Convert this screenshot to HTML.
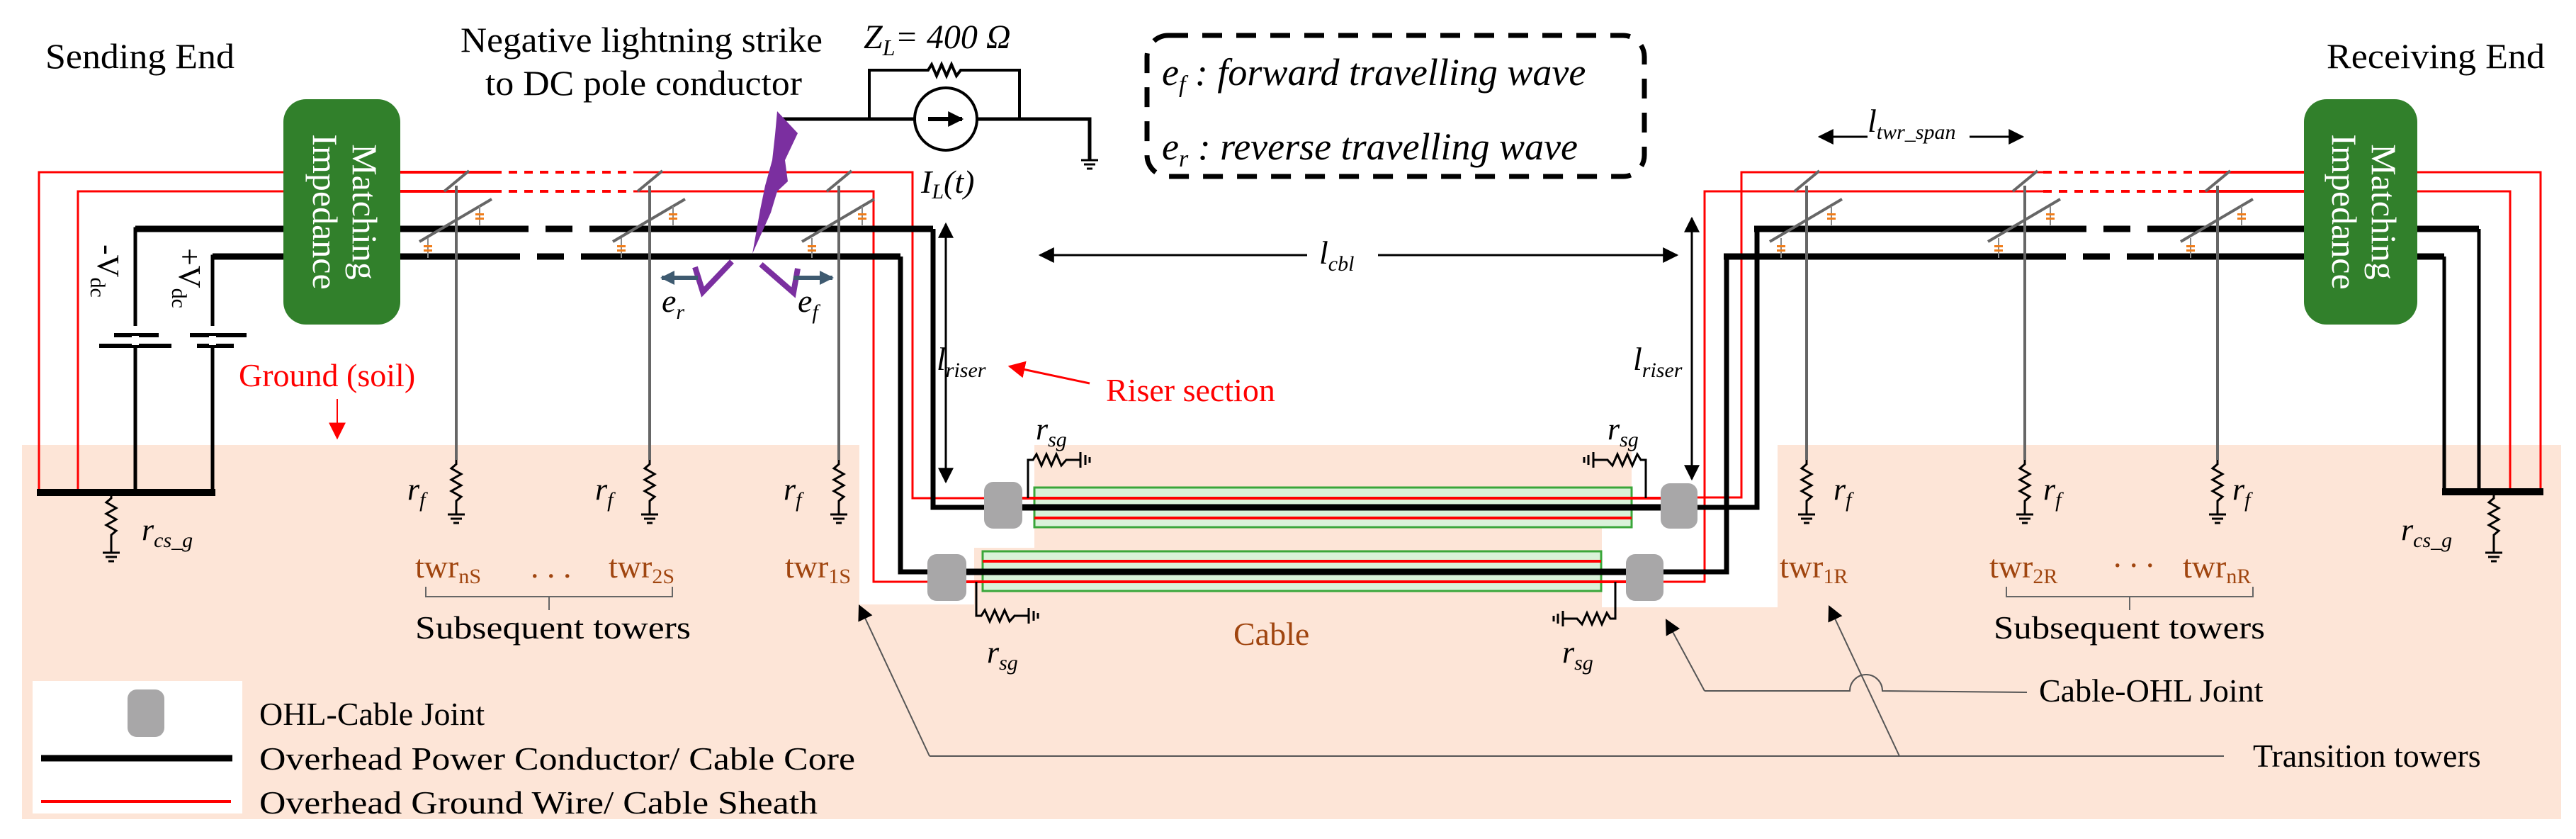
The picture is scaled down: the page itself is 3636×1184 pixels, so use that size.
<!DOCTYPE html>
<html><head><meta charset="utf-8"><style>
html,body{margin:0;padding:0;background:#fff;}
svg{display:block;}
text{font-family:"Liberation Serif",serif;}
.it{font-style:italic;}
.br{fill:#a0450f;}
</style></head><body>
<svg width="3636" height="1184" viewBox="0 0 3636 1184" xmlns="http://www.w3.org/2000/svg">
<defs>
<marker id="ah" viewBox="0 0 10 10" refX="9" refY="5" markerWidth="9" markerHeight="9" orient="auto-start-reverse" markerUnits="userSpaceOnUse"><path d="M0,0 L10,5 L0,10 z" fill="#000"/></marker>
<marker id="ahb" viewBox="0 0 10 10" refX="9" refY="5" markerWidth="22" markerHeight="22" orient="auto-start-reverse" markerUnits="userSpaceOnUse"><path d="M0,0 L10,5 L0,10 z" fill="#000"/></marker>
<marker id="ahr" viewBox="0 0 10 10" refX="9" refY="5" markerWidth="24" markerHeight="24" orient="auto-start-reverse" markerUnits="userSpaceOnUse"><path d="M0,0 L10,5 L0,10 z" fill="#f00"/></marker>
<marker id="ahs" viewBox="0 0 10 10" refX="9" refY="5" markerWidth="20" markerHeight="20" orient="auto-start-reverse" markerUnits="userSpaceOnUse"><path d="M0,0 L10,5 L0,10 z" fill="#3e5a70"/></marker>
<g id="gnd"><line x1="-12" y1="0" x2="12" y2="0" stroke="#000" stroke-width="3"/><line x1="-8" y1="6" x2="8" y2="6" stroke="#000" stroke-width="3"/><line x1="-4" y1="12" x2="4" y2="12" stroke="#000" stroke-width="3"/></g>
<g id="rv"><polyline points="0,0 0,6 -7,12 7,20 -7,28 7,36 -7,44 7,52 0,58 0,66" fill="none" stroke="#000" stroke-width="3"/></g>
<g id="ins"><line x1="0" y1="-14" x2="0" y2="14" stroke="#888" stroke-width="2"/><rect x="-6" y="-4" width="12" height="3" fill="#f07d1a"/><rect x="-6" y="2" width="12" height="3" fill="#f07d1a"/></g>
</defs>

<!-- soil -->
<polygon points="31,628 1213,628 1213,853 1375,853 1375,773 1460,773 1460,628 2303,628 2303,745 2261,745 2261,857 2509,857 2509,628 3615,628 3615,1156 31,1156" fill="#fde5d7"/>
<rect x="46" y="961" width="296" height="187" fill="#fff"/>

<!-- texts top -->
<text x="64" y="96" font-size="50" textLength="267" lengthAdjust="spacingAndGlyphs">Sending End</text>
<text x="3284" y="96" font-size="50" textLength="308" lengthAdjust="spacingAndGlyphs">Receiving End</text>
<text x="650" y="73" font-size="50" textLength="511" lengthAdjust="spacingAndGlyphs">Negative lightning strike</text>
<text x="685" y="134" font-size="50" textLength="447" lengthAdjust="spacingAndGlyphs">to DC pole conductor</text>
<text x="1219" y="68" font-size="48" class="it">Z<tspan font-size="32" dy="10">L</tspan><tspan dy="-10">= 400  Ω</tspan></text>
<text x="1300" y="272" font-size="46" class="it">I<tspan font-size="30" dy="8">L</tspan><tspan dy="-8">(t)</tspan></text>

<!-- dashed legend box -->
<rect x="1619" y="50" width="702" height="199" rx="30" fill="none" stroke="#000" stroke-width="7" stroke-dasharray="28 20"/>
<text x="1640" y="120" font-size="54" class="it">e<tspan font-size="34" dy="10">f</tspan><tspan dy="-10"> : forward travelling wave</tspan></text>
<text x="1640" y="225" font-size="54" class="it">e<tspan font-size="34" dy="10">r</tspan><tspan dy="-10"> : reverse travelling wave</tspan></text>

<!-- ZL circuit -->
<polyline points="1103,168 1291,168" stroke="#000" stroke-width="5" fill="none"/>
<polyline points="1379,168 1538,168 1538,226" stroke="#000" stroke-width="5" fill="none"/>
<use href="#gnd" x="1538" y="226"/>
<polyline points="1227,168 1227,99 1310,99 1315,91 1322,107 1329,91 1336,107 1343,91 1350,107 1356,99 1439,99 1439,168" stroke="#000" stroke-width="4" fill="none"/>
<circle cx="1335" cy="168" r="44" fill="#fff" stroke="#000" stroke-width="4"/>
<line x1="1310" y1="168" x2="1358" y2="168" stroke="#000" stroke-width="6" marker-end="url(#ahb)"/>

<!-- Matching impedance boxes -->
<rect x="400" y="140" width="165" height="318" rx="32" fill="#31802b"/>
<text transform="translate(498,299) rotate(90)" font-size="50" fill="#fff" text-anchor="middle">Matching</text>
<text transform="translate(442,299) rotate(90)" font-size="50" fill="#fff" text-anchor="middle">Impedance</text>
<rect x="3252" y="140" width="160" height="318" rx="32" fill="#31802b"/>
<text transform="translate(3348,299) rotate(90)" font-size="50" fill="#fff" text-anchor="middle">Matching</text>
<text transform="translate(3292,299) rotate(90)" font-size="50" fill="#fff" text-anchor="middle">Impedance</text>

<!-- LEFT red ground wires -->
<g stroke="#f00" fill="none">
<polyline points="400,243 55,243 55,695" stroke-width="3"/>
<polyline points="400,270 110,270 110,695" stroke-width="3"/>
<line x1="565" y1="243" x2="696" y2="243" stroke-width="4"/>
<line x1="696" y1="243" x2="894" y2="243" stroke-width="4" stroke-dasharray="12 10"/>
<polyline points="894,243 1288,243 1288,703 1389,703" stroke-width="3"/>
<line x1="565" y1="270" x2="696" y2="270" stroke-width="4"/>
<line x1="696" y1="270" x2="894" y2="270" stroke-width="4" stroke-dasharray="12 10"/>
<polyline points="894,270 1233,270 1233,821 1309,821" stroke-width="3"/>
</g>
<!-- LEFT black conductors -->
<g stroke="#000" fill="none">
<polyline points="191,695 191,323 400,323" stroke-width="5"/>
<line x1="191" y1="323" x2="400" y2="323" stroke-width="9"/>
<polyline points="300,695 300,362 400,362" stroke-width="5"/>
<line x1="300" y1="362" x2="400" y2="362" stroke-width="9"/>
<line x1="565" y1="323" x2="708" y2="323" stroke-width="9"/>
<line x1="708" y1="323" x2="859" y2="323" stroke-width="9" stroke-dasharray="38 24"/>
<line x1="859" y1="323" x2="1317" y2="323" stroke-width="9"/>
<polyline points="1317,323 1317,716 1389,716" stroke-width="7"/>
<line x1="565" y1="362" x2="696" y2="362" stroke-width="9"/>
<line x1="696" y1="362" x2="824" y2="362" stroke-width="9" stroke-dasharray="38 24"/>
<line x1="824" y1="362" x2="1271" y2="362" stroke-width="9"/>
<polyline points="1271,362 1271,807 1309,807" stroke-width="7"/>
<line x1="52" y1="695" x2="304" y2="695" stroke-width="10"/>
</g>
<!-- capacitors -->
<g stroke="#000" stroke-width="6">
<line x1="191" y1="460" x2="191" y2="473" stroke="#fff" stroke-width="8"/>
<line x1="300" y1="460" x2="300" y2="488" stroke="#fff" stroke-width="8"/>
<line x1="161" y1="473" x2="224" y2="473"/><line x1="140" y1="488" x2="242" y2="488"/>
<line x1="268" y1="473" x2="348" y2="473"/><line x1="278" y1="488" x2="330" y2="488"/>
</g>
<rect x="186" y="474" width="10" height="13" fill="#fff"/>
<rect x="295" y="474" width="10" height="13" fill="#fff"/>
<text transform="translate(138,345) rotate(90)" font-size="44">-V<tspan font-size="30" dy="10">dc</tspan></text>
<text transform="translate(253,350) rotate(90)" font-size="44">+V<tspan font-size="30" dy="10">dc</tspan></text>
<use href="#rv" x="157" y="697"/>
<line x1="157" y1="763" x2="157" y2="780" stroke="#000" stroke-width="3"/>
<use href="#gnd" x="157" y="780"/>
<text x="200" y="762" font-size="44" class="it">r<tspan font-size="30" dy="10">cs_g</tspan></text>

<!-- RIGHT red & black -->
<g stroke="#f00" fill="none">
<polyline points="3412,243 3586,243 3586,694" stroke-width="3"/>
<polyline points="3412,270 3543,270 3543,694" stroke-width="3"/>
<polyline points="2396,702 2458,702 2458,243 2884,243" stroke-width="3"/>
<line x1="2884" y1="243" x2="3104" y2="243" stroke-width="4" stroke-dasharray="12 10"/>
<line x1="3104" y1="243" x2="3252" y2="243" stroke-width="4"/>
<polyline points="2348,821 2406,821 2406,270 2884,270" stroke-width="3"/>
<line x1="2884" y1="270" x2="3104" y2="270" stroke-width="4" stroke-dasharray="12 10"/>
<line x1="3104" y1="270" x2="3252" y2="270" stroke-width="4"/>
</g>
<g stroke="#000" fill="none">
<polyline points="2396,716 2480,716 2480,323" stroke-width="7"/>
<line x1="2476" y1="323" x2="2907" y2="323" stroke-width="9"/>
<line x1="2907" y1="323" x2="3064" y2="323" stroke-width="9" stroke-dasharray="38 24"/>
<line x1="3064" y1="323" x2="3252" y2="323" stroke-width="9"/>
<line x1="3412" y1="323" x2="3499" y2="323" stroke-width="9"/>
<polyline points="3499,323 3499,694" stroke-width="5"/>
<polyline points="2348,807 2437,807 2437,362" stroke-width="7"/>
<line x1="2433" y1="362" x2="2878" y2="362" stroke-width="9"/>
<line x1="2878" y1="362" x2="3046" y2="362" stroke-width="9" stroke-dasharray="38 24"/>
<line x1="3046" y1="362" x2="3252" y2="362" stroke-width="9"/>
<line x1="3412" y1="362" x2="3450" y2="362" stroke-width="9"/>
<polyline points="3450,362 3450,694" stroke-width="5"/>
<line x1="3447" y1="694" x2="3590" y2="694" stroke-width="10"/>
</g>
<use href="#rv" x="3520" y="697"/>
<line x1="3520" y1="763" x2="3520" y2="780" stroke="#000" stroke-width="3"/>
<use href="#gnd" x="3520" y="780"/>
<text x="3389" y="762" font-size="44" class="it">r<tspan font-size="30" dy="10">cs_g</tspan></text>

<!-- Towers -->
<g id="towers">
<g stroke="#666" stroke-width="4" fill="none">
<line x1="644" y1="262" x2="644" y2="649"/><line x1="917" y1="262" x2="917" y2="649"/><line x1="1184" y1="262" x2="1184" y2="649"/>
<line x1="2550" y1="262" x2="2550" y2="649"/><line x1="2858" y1="262" x2="2858" y2="649"/><line x1="3130" y1="262" x2="3130" y2="649"/>
</g>
<g stroke="#666" stroke-width="4">
<line x1="627" y1="270" x2="662" y2="241"/><line x1="592" y1="341" x2="694" y2="281"/>
<line x1="900" y1="270" x2="935" y2="241"/><line x1="865" y1="341" x2="967" y2="281"/>
<line x1="1167" y1="270" x2="1202" y2="241"/><line x1="1132" y1="341" x2="1234" y2="281"/>
<line x1="2533" y1="270" x2="2568" y2="241"/><line x1="2498" y1="341" x2="2600" y2="281"/>
<line x1="2841" y1="270" x2="2876" y2="241"/><line x1="2806" y1="341" x2="2908" y2="281"/>
<line x1="3113" y1="270" x2="3148" y2="241"/><line x1="3078" y1="341" x2="3180" y2="281"/>
</g>
<use href="#ins" x="677" y="305"/><use href="#ins" x="604" y="350"/>
<use href="#ins" x="950" y="305"/><use href="#ins" x="877" y="350"/>
<use href="#ins" x="1217" y="305"/><use href="#ins" x="1146" y="350"/>
<use href="#ins" x="2585" y="305"/><use href="#ins" x="2514" y="350"/>
<use href="#ins" x="2894" y="305"/><use href="#ins" x="2821" y="350"/>
<use href="#ins" x="3164" y="305"/><use href="#ins" x="3092" y="350"/>
</g>
<g>
<use href="#rv" x="644" y="649"/><use href="#gnd" x="644" y="726"/><line x1="644" y1="714" x2="644" y2="726" stroke="#000" stroke-width="3"/>
<use href="#rv" x="917" y="649"/><use href="#gnd" x="917" y="726"/><line x1="917" y1="714" x2="917" y2="726" stroke="#000" stroke-width="3"/>
<use href="#rv" x="1184" y="649"/><use href="#gnd" x="1184" y="726"/><line x1="1184" y1="714" x2="1184" y2="726" stroke="#000" stroke-width="3"/>
<use href="#rv" x="2550" y="649"/><use href="#gnd" x="2550" y="726"/><line x1="2550" y1="714" x2="2550" y2="726" stroke="#000" stroke-width="3"/>
<use href="#rv" x="2858" y="649"/><use href="#gnd" x="2858" y="726"/><line x1="2858" y1="714" x2="2858" y2="726" stroke="#000" stroke-width="3"/>
<use href="#rv" x="3130" y="649"/><use href="#gnd" x="3130" y="726"/><line x1="3130" y1="714" x2="3130" y2="726" stroke="#000" stroke-width="3"/>
</g>
<g font-size="44" class="it">
<text x="575" y="705">r<tspan font-size="30" dy="10">f</tspan></text>
<text x="840" y="705">r<tspan font-size="30" dy="10">f</tspan></text>
<text x="1106" y="705">r<tspan font-size="30" dy="10">f</tspan></text>
<text x="2588" y="705">r<tspan font-size="30" dy="10">f</tspan></text>
<text x="2884" y="705">r<tspan font-size="30" dy="10">f</tspan></text>
<text x="3151" y="705">r<tspan font-size="30" dy="10">f</tspan></text>
</g>

<!-- lightning -->
<polygon points="1097,157 1126,188 1108,226 1112,256 1097,270 1088,300 1062,358 1073,296 1080,262 1090,226 1094,190" fill="#7b2fa0"/>
<polyline points="1033,369 992,412 981,377" fill="none" stroke="#7b2fa0" stroke-width="8"/>
<polyline points="1074,373 1120,413 1126,379" fill="none" stroke="#7b2fa0" stroke-width="8"/>
<line x1="985" y1="392" x2="934" y2="392" stroke="#3e5a70" stroke-width="6" marker-end="url(#ahs)"/>
<line x1="1120" y1="392" x2="1175" y2="392" stroke="#3e5a70" stroke-width="6" marker-end="url(#ahs)"/>
<text x="934" y="440" font-size="46" class="it">e<tspan font-size="30" dy="10">r</tspan></text>
<text x="1126" y="440" font-size="46" class="it">e<tspan font-size="30" dy="10">f</tspan></text>

<!-- dimension arrows -->
<line x1="1335" y1="316" x2="1335" y2="680" stroke="#000" stroke-width="3" marker-start="url(#ahb)" marker-end="url(#ahb)"/>
<text x="1322" y="522" font-size="46" class="it">l<tspan font-size="30" dy="10">riser</tspan></text>
<line x1="2388" y1="308" x2="2388" y2="676" stroke="#000" stroke-width="3" marker-start="url(#ahb)" marker-end="url(#ahb)"/>
<text x="2305" y="522" font-size="46" class="it">l<tspan font-size="30" dy="10">riser</tspan></text>
<line x1="1468" y1="360" x2="1845" y2="360" stroke="#000" stroke-width="3" marker-start="url(#ahb)"/>
<line x1="1945" y1="360" x2="2367" y2="360" stroke="#000" stroke-width="3" marker-end="url(#ahb)"/>
<text x="1862" y="372" font-size="46" class="it">l<tspan font-size="30" dy="10">cbl</tspan></text>
<line x1="2568" y1="193" x2="2636" y2="193" stroke="#000" stroke-width="3" marker-start="url(#ahb)"/>
<line x1="2780" y1="193" x2="2855" y2="193" stroke="#000" stroke-width="3" marker-end="url(#ahb)"/>
<text x="2636" y="186" font-size="46" class="it">l<tspan font-size="30" dy="10">twr_span</tspan></text>

<text x="1561" y="566" font-size="46" fill="#f00">Riser section</text>
<line x1="1538" y1="541" x2="1425" y2="517" stroke="#f00" stroke-width="3" marker-end="url(#ahr)"/>
<text x="337" y="545" font-size="46" fill="#f00">Ground (soil)</text>
<line x1="476" y1="563" x2="476" y2="618" stroke="#f00" stroke-width="2" marker-end="url(#ahr)"/>

<!-- cables -->
<rect x="1460" y="688" width="843" height="56" fill="#d9f2d9" stroke="#3aa63a" stroke-width="3"/>
<rect x="1387" y="778" width="873" height="56" fill="#d9f2d9" stroke="#3aa63a" stroke-width="3"/>
<g stroke="#f00" stroke-width="4">
<line x1="1389" y1="703" x2="2396" y2="703"/><line x1="1460" y1="731" x2="2303" y2="731"/>
<line x1="1387" y1="792" x2="2260" y2="792"/><line x1="1309" y1="821" x2="2348" y2="821"/>
</g>
<g stroke="#000" stroke-width="9">
<line x1="1389" y1="716" x2="2396" y2="716"/><line x1="1309" y1="807" x2="2348" y2="807"/>
</g>
<g fill="#a8a7a8">
<rect x="1389" y="680" width="54" height="66" rx="13"/><rect x="1309" y="782" width="55" height="66" rx="13"/>
<rect x="2344" y="682" width="52" height="64" rx="13"/><rect x="2295" y="782" width="53" height="66" rx="13"/>
<rect x="180" y="973" width="52" height="67" rx="13"/>
</g>
<!-- rsg resistors -->
<g stroke="#000" stroke-width="3" fill="none">
<polyline points="1451,703 1451,649 1458,649 1463,641 1470,657 1477,641 1484,657 1491,641 1498,657 1505,649 1525,649"/>
<line x1="1525" y1="638" x2="1525" y2="660"/><line x1="1532" y1="642" x2="1532" y2="656"/><line x1="1538" y1="645" x2="1538" y2="653"/>
<polyline points="1378,821 1378,869 1385,869 1390,861 1397,877 1404,861 1411,877 1418,861 1425,877 1432,869 1452,869"/>
<line x1="1452" y1="858" x2="1452" y2="880"/><line x1="1459" y1="862" x2="1459" y2="876"/><line x1="1465" y1="865" x2="1465" y2="873"/>
<polyline points="2323,703 2323,649 2316,649 2311,641 2304,657 2297,641 2290,657 2283,641 2276,657 2269,649 2249,649"/>
<line x1="2249" y1="638" x2="2249" y2="660"/><line x1="2242" y1="642" x2="2242" y2="656"/><line x1="2236" y1="645" x2="2236" y2="653"/>
<polyline points="2280,821 2280,873 2273,873 2268,865 2261,881 2254,865 2247,881 2240,865 2233,881 2226,873 2206,873"/>
<line x1="2206" y1="862" x2="2206" y2="884"/><line x1="2199" y1="866" x2="2199" y2="880"/><line x1="2193" y1="869" x2="2193" y2="877"/>
</g>
<g font-size="44" class="it">
<text x="1462" y="620">r<tspan font-size="30" dy="10">sg</tspan></text>
<text x="1393" y="935">r<tspan font-size="30" dy="10">sg</tspan></text>
<text x="2269" y="620">r<tspan font-size="30" dy="10">sg</tspan></text>
<text x="2205" y="935">r<tspan font-size="30" dy="10">sg</tspan></text>
</g>
<text x="1741" y="910" font-size="46" class="br">Cable</text>

<!-- tower labels -->
<g font-size="46" class="br">
<text x="586" y="815">twr<tspan font-size="30" dy="8">nS</tspan></text>
<text x="749" y="815">. . .</text>
<text x="859" y="815">twr<tspan font-size="30" dy="8">2S</tspan></text>
<text x="1108" y="815">twr<tspan font-size="30" dy="8">1S</tspan></text>
<text x="2512" y="815">twr<tspan font-size="30" dy="8">1R</tspan></text>
<text x="2808" y="815">twr<tspan font-size="30" dy="8">2R</tspan></text>
<text x="2983" y="800">. . .</text>
<text x="3081" y="815">twr<tspan font-size="30" dy="8">nR</tspan></text>
</g>
<g stroke="#666" stroke-width="2" fill="none">
<polyline points="601,828 601,842 949,842 949,828"/><line x1="775" y1="842" x2="775" y2="861"/>
<polyline points="2832,828 2832,842 3180,842 3180,828"/><line x1="3006" y1="842" x2="3006" y2="861"/>
</g>
<text x="586" y="901" font-size="46" textLength="389" lengthAdjust="spacingAndGlyphs">Subsequent towers</text>
<text x="2814" y="901" font-size="46" textLength="383" lengthAdjust="spacingAndGlyphs">Subsequent towers</text>

<!-- callouts -->
<g stroke="#555" stroke-width="2" fill="none">
<polyline points="1312,1067 3139,1067"/>
<line x1="1312" y1="1067" x2="1213" y2="855" marker-end="url(#ahb)"/>
<line x1="2681" y1="1067" x2="2582" y2="856" marker-end="url(#ahb)"/>
<line x1="2406" y1="975" x2="2352" y2="875" marker-end="url(#ahb)"/>
<path d="M2406,975 L2611,975 A23,23 0 0 1 2657,975 L2861,977"/>
</g>
<text x="2878" y="990" font-size="46">Cable-OHL Joint</text>
<text x="3180" y="1082" font-size="46">Transition towers</text>

<!-- legend -->
<line x1="58" y1="1070" x2="328" y2="1070" stroke="#000" stroke-width="9"/>
<line x1="58" y1="1131" x2="326" y2="1131" stroke="#f00" stroke-width="4"/>
<text x="366" y="1023" font-size="46">OHL-Cable Joint</text>
<text x="366" y="1086" font-size="46" textLength="841" lengthAdjust="spacingAndGlyphs">Overhead Power Conductor/ Cable Core</text>
<text x="366" y="1148" font-size="46" textLength="788" lengthAdjust="spacingAndGlyphs">Overhead Ground Wire/ Cable Sheath</text>
</svg>
</body></html>
